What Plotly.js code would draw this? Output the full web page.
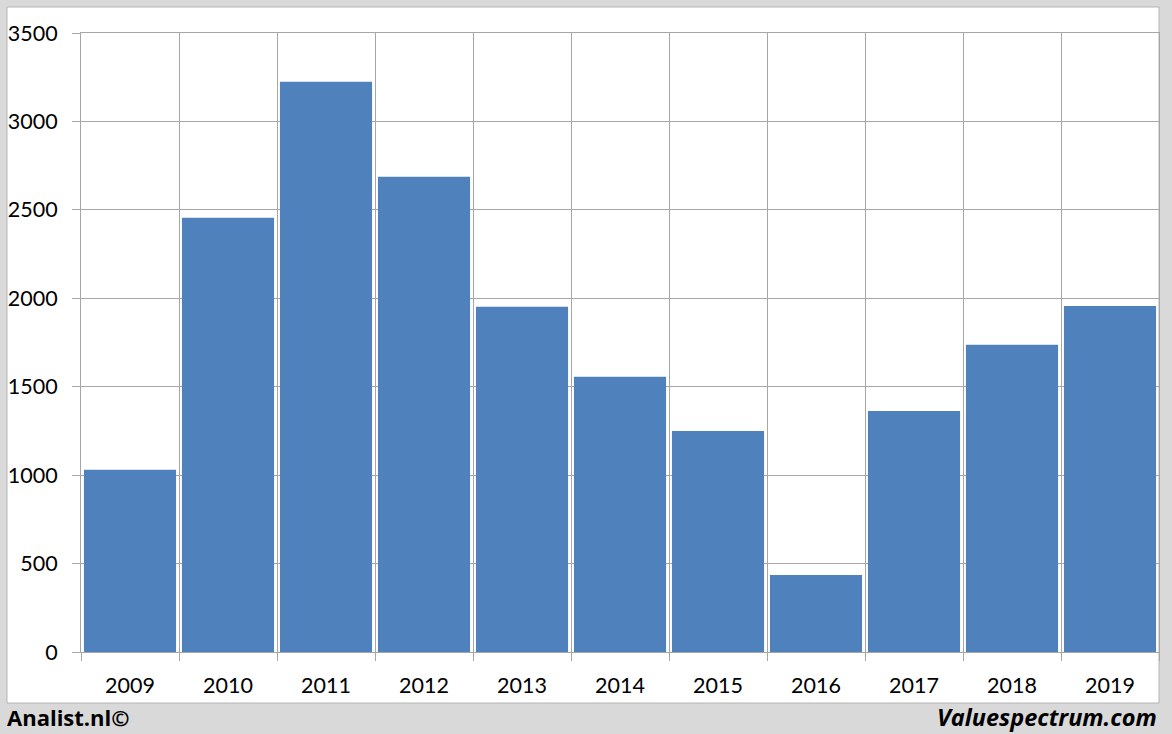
<!DOCTYPE html>
<html><head><meta charset="utf-8">
<script src="https://cdn.plot.ly/plotly-3.0.1.min.js"></script>
<style>html,body{margin:0;padding:0;background:#d9d9d9;}#chart{width:1172px;height:734px;}</style>
</head><body><div id="chart"></div>
<script>
const years = ["2009","2010","2011","2012","2013","2014","2015","2016","2017","2018","2019"];
const values = [1030, 2455, 3224, 2687, 1952, 1556, 1250, 436, 1363, 1737, 1957];
const yTicks = [0, 500, 1000, 1500, 2000, 2500, 3000, 3500];

const gridColor = "#a6a6a6";
const fontFam = "Lato, 'Open Sans', sans-serif";

const trace = {
  type: "bar",
  x: years,
  y: values,
  marker: {color: "#4f81bd", line: {color: "#ffffff", width: 0}},
  hoverinfo: "x+y"
};

const layout = {
  width: 1172, height: 734,
  margin: {l: 81, r: 13, t: 33, b: 82, pad: 0},
  paper_bgcolor: "#d9d9d9",
  plot_bgcolor: "rgba(0,0,0,0)",
  bargap: 0.06,
  showlegend: false,
  font: {family: fontFam, size: 21, color: "#000000"},
  xaxis: {
    type: "category",
    tickson: "boundaries",
    ticks: "outside", ticklen: 8, tickcolor: gridColor, tickwidth: 1,
    showgrid: true, gridcolor: gridColor, gridwidth: 1,
    showline: true, linecolor: gridColor, linewidth: 1, mirror: true,
    ticklabelstandoff: 14,
    tickfont: {family: fontFam, size: 21.5, color: "#000"},
    fixedrange: true
  },
  yaxis: {
    range: [0, 3500],
    tickvals: yTicks,
    ticktext: yTicks.map(String),
    ticks: "outside", ticklen: 8, tickcolor: gridColor, tickwidth: 1,
    showgrid: true, gridcolor: gridColor, gridwidth: 1,
    showline: true, linecolor: gridColor, linewidth: 1, mirror: true,
    zeroline: false,
    ticklabelstandoff: 10,
    tickfont: {family: fontFam, size: 21.5, color: "#000"},
    fixedrange: true
  },
  shapes: [{
    type: "rect", xref: "paper", yref: "paper", layer: "below",
    x0: -74/1078, x1: 1.0, y0: -51/619, y1: 645/619,
    fillcolor: "#ffffff", line: {color: "#b4b4b4", width: 1}
  }],
  annotations: [
    {xref: "paper", yref: "paper", x: -76/1078, y: -65/619, xanchor: "left", yanchor: "middle",
     text: "<b>Analist.nl©</b>", showarrow: false, font: {family: "'Open Sans', sans-serif", size: 22, color: "#000"}},
    {xref: "paper", yref: "paper", x: 1.0, y: -65/619, xanchor: "right", yanchor: "middle",
     text: "<b><i>Valuespectrum.com</i></b>", showarrow: false, font: {family: "'Open Sans', sans-serif", size: 23.5, color: "#000"}}
  ]
};

Plotly.newPlot("chart", [trace], layout, {displayModeBar: false, staticPlot: true});
</script></body></html>
